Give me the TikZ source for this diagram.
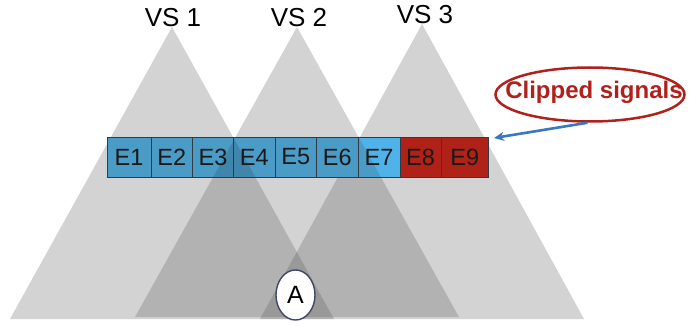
\documentclass[tikz,border=0pt]{standalone}
\usepackage{fontspec}
\setmainfont{Liberation Sans}
\usetikzlibrary{shapes.geometric,arrows.meta}
\definecolor{trigray}{RGB}{79,79,79}
\definecolor{eblue}{RGB}{74,155,198}
\definecolor{elight}{RGB}{79,179,234}
\definecolor{ered}{RGB}{176,33,24}
\definecolor{cred}{RGB}{176,32,28}
\definecolor{boxline}{RGB}{50,58,68}
\definecolor{etext}{RGB}{25,25,25}
\definecolor{arrowblue}{RGB}{58,118,196}
\definecolor{aline}{RGB}{62,72,100}
\begin{document}
\begin{tikzpicture}[x=1pt,y=-1pt,
  tri/.style={fill=trigray, fill opacity=0.25},
  ebox/.style={draw=boxline, line width=0.7pt, minimum height=40pt, inner sep=0pt, anchor=center,
    font=\fontsize{23.5}{23.5}\selectfont, text=etext},
  vslabel/.style={font=\fontsize{26}{26}\selectfont, text=black, inner sep=0pt}]
\useasboundingbox (0,0) rectangle (689,326);
% apexes and bases
\coordinate (v1) at (172,27);
\coordinate (v1l) at (10,319);
\coordinate (v1r) at (334,319);
\coordinate (v2) at (297,27);
\coordinate (v2l) at (135,317);
\coordinate (v2r) at (459,317);
\coordinate (v3) at (422,24);
\coordinate (v3l) at (260,319);
\coordinate (v3r) at (584,319);
% triangles
\fill[tri] (v1) -- (v1l) -- (v1r) -- cycle;
\fill[tri] (v2) -- (v2l) -- (v2r) -- cycle;
\fill[tri] (v3) -- (v3l) -- (v3r) -- cycle;
% labels
\node[vslabel] (vs1) at (173,18) {VS 1};
\node[vslabel] (vs2) at (299,18) {VS 2};
\node[vslabel] (vs3) at (425,14.5) {VS 3};
% strip backgrounds
\fill[eblue] (107,137) rectangle (358,177);
\fill[elight] (358,137) rectangle (400,177);
\fill[ered] (400,137) rectangle (488.5,177);
\begin{scope}
  \clip (358,137) rectangle (400,177);
  \fill[eblue] (v2) -- (v2l) -- (v2r) -- cycle;
\end{scope}
\begin{scope}
  \clip (107,137) rectangle (358,177);
  \clip (v1) -- (v1l) -- (v1r) -- cycle;
  \fill[black, fill opacity=0.13] (v2) -- (v2l) -- (v2r) -- cycle;
\end{scope}
% boxes
\node[ebox, minimum width=44pt] (E1) at (129,157) {E1};
\node[ebox, minimum width=41.5pt] (E2) at (171.75,157) {E2};
\node[ebox, minimum width=41pt] (E3) at (213,157) {E3};
\node[ebox, minimum width=41.5pt] (E4) at (254.25,157) {E4};
\node[ebox, minimum width=41.5pt] (E5) at (295.75,157) {E5};
\node[ebox, minimum width=41.5pt] (E6) at (337.25,157) {E6};
\node[ebox, minimum width=42pt] (E7) at (379,157) {E7};
\node[ebox, minimum width=41pt] (E8) at (420.5,157) {E8};
\node[ebox, minimum width=47.5pt] (E9) at (464.75,157) {E9};
% clipped signals
\node[ellipse, draw=cred, line width=2.5pt, minimum width=189pt, minimum height=54pt, inner sep=0pt] (clip) at (590,94.5) {};
\node[font=\bfseries\fontsize{24}{24}\selectfont, text=cred, inner sep=0pt] (cliptext) at (594,92) {Clipped signals};
\coordinate (tip) at (494,138);
\draw[arrowblue, line width=2.6pt, -{Stealth[length=10pt,width=9pt]}] (clip.265) -- (tip);
% A
\node[ellipse, draw=aline, line width=1.4pt, fill=white, minimum width=39pt, minimum height=50pt, inner sep=0pt,
  font=\fontsize{25}{25}\selectfont] (A) at (295.5,295) {A};
\end{tikzpicture}
\end{document}
